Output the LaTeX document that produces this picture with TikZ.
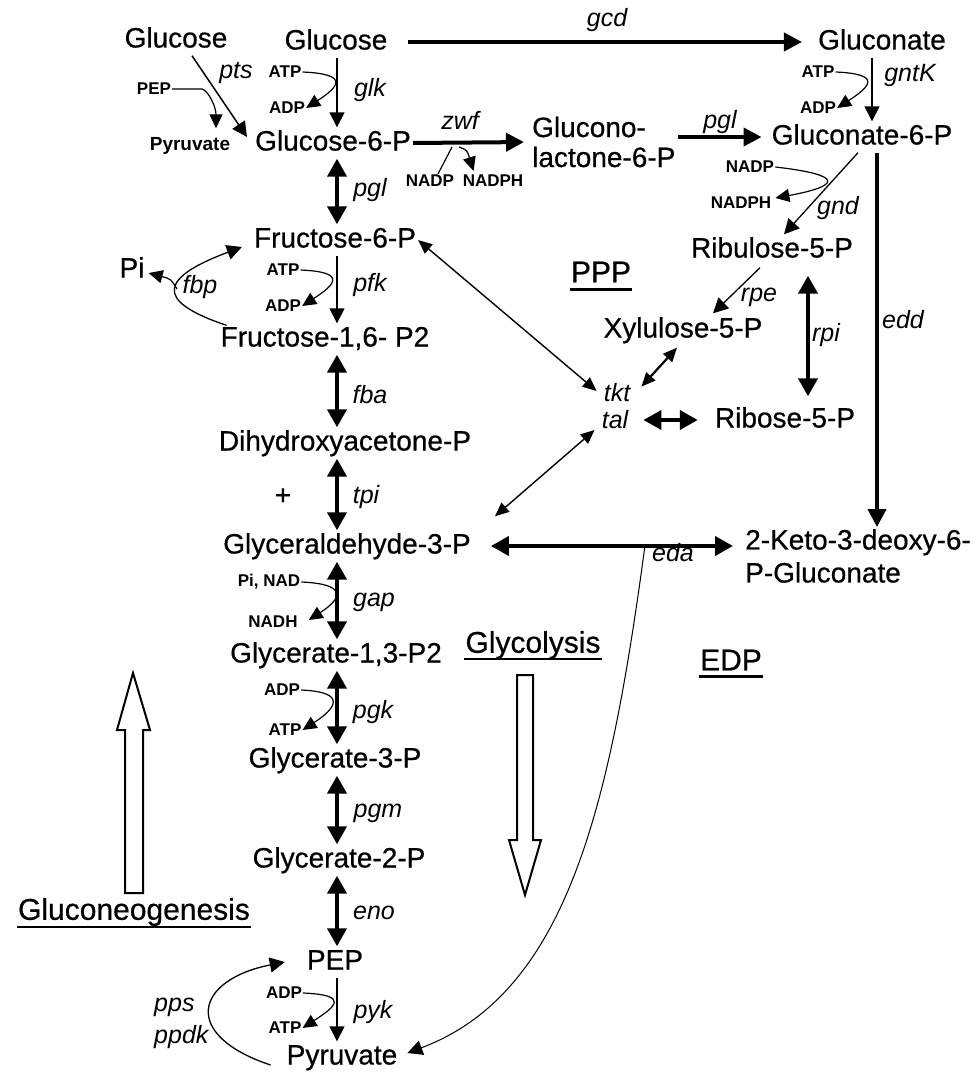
\documentclass[tikz,border=0pt]{standalone}
\usepackage{fontspec}
\setmainfont{Liberation Sans}
% slightly heavier regular weight for the compound names
\newfontfamily\heavy{Liberation Sans}[BoldFont=Liberation Sans, BoldFeatures={FakeBold=0.6}]
\usetikzlibrary{arrows.meta,calc}
\begin{document}
\begin{tikzpicture}[x=1pt,y=-1pt,
  met/.style={font=\heavy\bfseries\fontsize{28}{32}\selectfont, inner sep=2pt, text height=21pt, text depth=6pt},
  mettwo/.style={font=\heavy\bfseries\fontsize{28}{30}\selectfont, inner sep=2pt, align=left},
  enz/.style={font=\fontsize{25}{28}\selectfont\itshape, inner sep=1pt},
  cof/.style={font=\fontsize{17}{20}\selectfont\bfseries, inner sep=1pt},
  sec/.style={font=\heavy\bfseries\fontsize{30}{34}\selectfont, inner sep=1pt},
  thickarr/.style={line width=4pt, -{Triangle[length=18pt,width=18pt]}},
  thickdbl/.style={line width=4pt, {Triangle[length=18pt,width=19pt]}-{Triangle[length=18pt,width=19pt]}},
  thinarr/.style={line width=1.5pt, -{Triangle[length=15pt,width=15pt]}},
  thindbl/.style={line width=1.4pt, {Triangle[length=14pt,width=12pt]}-{Triangle[length=14pt,width=12pt]}},
  side/.style={line width=1.2pt, -{Triangle[length=14pt,width=13pt]}},
  plain/.style={line width=1.2pt},
  ul/.style={line width=2.5pt},
  hollow/.style={draw, line width=2pt, fill=white, line join=miter},
]
\useasboundingbox (0,0) rectangle (975,1073);

% columns of the vertical reaction arrows
\coordinate (colA) at (337,0);
\coordinate (colB) at (872,0);
\coordinate (colE) at (877,0);
\coordinate (colR) at (808,0);

% metabolites
\node[met] (glcL) at (176,40) {Glucose};
\node[met] (glc) at (336,42) {Glucose};
\node[met] (gn) at (882,42) {Gluconate};
\node[met] (g6p) at (333,143) {Glucose-6-P};
\node[mettwo, anchor=west] (gl6p) at (530,142) {Glucono-\\lactone-6-P};
\node[met] (gn6p) at (862,137) {Gluconate-6-P};
\node[met] (f6p) at (335,240) {Fructose-6-P};
\node[met] (fbp16) at (325,339) {Fructose-1,6- P2};
\node[met] (pi) at (132,270) {Pi};
\node[met] (dhap) at (345,443) {Dihydroxyacetone-P};
\node[met] (plus) at (283,497) {+};
\node[met] (g3p) at (347,546) {Glyceraldehyde-3-P};
\node[met] (bpg) at (336,655) {Glycerate-1,3-P2};
\node[met] (pg3) at (335,760) {Glycerate-3-P};
\node[met] (pg2) at (339,860) {Glycerate-2-P};
\node[met] (pep) at (335,962) {PEP};
\node[met] (pyr) at (342,1057) {Pyruvate};
\node[met] (ru5p) at (772,250) {Ribulose-5-P};
\node[met] (xu5p) at (683,330) {Xylulose-5-P};
\node[met] (r5p) at (785,420) {Ribose-5-P};
\node[mettwo, font=\heavy\bfseries\fontsize{28}{33}\selectfont, anchor=north west] (kdpg) at (743,527) {2-Keto-3-deoxy-6-\\P-Gluconate};

% cofactors
\node[cof] (pepS) at (154,89) {PEP};
\node[cof, font=\bfseries\fontsize{19}{22}\selectfont] (pyrS) at (190,146) {Pyruvate};
\node[cof] (atp1) at (285,72) {ATP};
\node[cof] (adp1) at (287,108) {ADP};
\node[cof] (nadp1) at (430,181) {NADP};
\node[cof] (nadph1) at (493,181) {NADPH};
\node[cof] (atp2) at (818,72) {ATP};
\node[cof] (adp2) at (818,108) {ADP};
\node[cof] (nadp2) at (750,167) {NADP};
\node[cof] (nadph2) at (741,203) {NADPH};
\node[cof] (atp3) at (283,270) {ATP};
\node[cof] (adp3) at (283,306) {ADP};
\node[cof] (pinad) at (269,582) {Pi, NAD};
\node[cof] (nadh) at (273,622) {NADH};
\node[cof] (adp4) at (282,690) {ADP};
\node[cof] (atp4) at (285,730) {ATP};
\node[cof] (adp5) at (284,993) {ADP};
\node[cof] (atp5) at (285,1028) {ATP};

% enzymes
\node[enz] (egcd) at (607,20) {gcd};
\node[enz] (epts) at (236,73) {pts};
\node[enz] (eglk) at (370,90) {glk};
\node[enz] (ezwf) at (460,120) {zwf};
\node[enz] (epgla) at (720,122) {pgl};
\node[enz] (egntk) at (910,75) {gntK};
\node[enz] (egnd) at (838,208) {gnd};
\node[enz] (epglb) at (370,190) {pgl};
\node[enz] (epfk) at (370,285) {pfk};
\node[enz] (efbp) at (200,287) {fbp};
\node[enz] (eedd) at (903,320) {edd};
\node[enz] (erpe) at (759,297) {rpe};
\node[enz] (erpi) at (826,335) {rpi};
\node[enz] (tkt) at (617,393) {tkt};
\node[enz] (tal) at (615,420) {tal};
\node[enz] (efba) at (370,395) {fba};
\node[enz] (etpi) at (366,497) {tpi};
\node[enz] (egap) at (374,602) {gap};
\node[enz] (epgk) at (373,712) {pgk};
\node[enz] (epgm) at (378,813) {pgm};
\node[enz] (eeno) at (374,913) {eno};
\node[enz] (epyk) at (373,1012) {pyk};
\node[enz] (eeda) at (673,553) {eda};
\node[enz, anchor=west] (epps) at (153,1007) {pps};
\node[enz, anchor=west] (eppdk) at (153,1037) {ppdk};

% pathway titles
\node[sec] (ppp) at (601,272) {PPP};
\node[sec] (glyc) at (533,645) {Glycolysis};
\node[sec] (edp) at (731,660) {EDP};
\node[sec] (gng) at (134,912) {Gluconeogenesis};
\draw[ul] ([yshift=-7pt]ppp.base west) -- ([yshift=-7pt]ppp.base east);
\draw[ul] ([yshift=-6pt]glyc.base west) -- ([yshift=-6pt]glyc.base east);
\draw[ul] ([yshift=-6pt]edp.base west) -- ([yshift=-6pt]edp.base east);
\draw[ul] ([yshift=-7pt]gng.base west) -- ([yshift=-7pt]gng.base east);

% hollow direction arrows
\draw[hollow] (125,893) -- (125,730) -- (117,730) -- (133,673) -- (150,730) -- (143,730) -- (143,893) -- cycle;
\draw[hollow] (517,675) -- (533,675) -- (533,840) -- (541,840) -- (525,895) -- (509,840) -- (517,840) -- cycle;

% glucose uptake
\draw[thickarr, shorten <=18pt, shorten >=14pt] (glc.east) -- (gn.west);
\draw[thinarr] ($(glcL.south)+(16,0)$) -- ($(g6p.west)+(-6,-6)$);
\draw[side] (pepS.east) -- ++(30,0) .. controls +(6,2) and +(0,-22) .. ($(pyrS.north)+(26,-8)$);
\draw[thinarr] (glc.south -| colA) -- (g6p.north -| colA);
\draw[side] (atp1.east) .. controls +(46,2) and +(34,-22) .. (adp1.east);

% oxidative branch
\draw[thickarr, shorten >=6pt] (g6p.east) -- (gl6p.west);
\coordinate (zwfj) at (455,143);
\draw[plain] ($(nadp1.north)+(8,0)$) -- ($(zwfj)+(-3,4)$);
\draw[side] ($(zwfj)+(4,4)$) .. controls +(8,3) .. ($(nadph1.north west)+(12,-3)$);
\draw[thickarr, shorten >=8pt] (gl6p.east |- gn6p.west) -- (gn6p.west);
\draw[thinarr] (gn.south -| colB) -- (gn6p.north -| colB);
\draw[side] (atp2.east) .. controls +(46,2) and +(34,-22) .. (adp2.east);
\draw[thinarr, line width=1.3pt] ($(gn6p.south)+(-4,0)$) -- ($(ru5p.north)+(12,0)$);
\draw[side] (nadp2.east) .. controls +(70,8) and +(65,-12) .. ($(nadph2.east)+(3,-5)$);
\draw[thickarr] (gn6p.south -| colE) -- (kdpg.north -| colE);

% non-oxidative branch
\draw[thinarr, line width=1.3pt] ($(ru5p.south)+(-12,2)$) -- ($(xu5p.north)+(30,-1)$);
\draw[thickdbl, shorten <=10pt, shorten >=8pt] (ru5p.south -| colR) -- (r5p.north -| colR);
\draw[thindbl, line width=2.2pt] ($(xu5p.south)+(-6,2)$) -- ($(tkt.north east)+(10,4)$);
\draw[thickdbl, shorten <=14pt, shorten >=15pt] (tal.east) -- (tal.east -| r5p.west);
\draw[thindbl] (f6p.east) -- ($(tkt.west)+(-6,-2)$);
\draw[thindbl] ($(g3p.north east)+(22,-14)$) -- ($(tal.west)+(-6,10)$);

% upper glycolysis
\draw[thickdbl] (g6p.south -| colA) -- (f6p.north -| colA);
\draw[thinarr] (f6p.south -| colA) -- (fbp16.north -| colA);
\draw[side] (atp3.east) .. controls +(46,2) and +(34,-22) .. (adp3.east);
\draw[thinarr, line width=1.3pt] ($(fbp16.north west)+(8,2)$) .. controls +(-75,-25) and +(-80,30) .. ($(f6p.west)+(-10,7)$);
\coordinate (fbpj) at (177,289);
\draw[side] (fbpj) .. controls +(-6,-10) .. ($(pi.east)+(2,3)$);
\draw[thickdbl] (fbp16.south -| colA) -- (dhap.north -| colA);
\draw[thickdbl] (dhap.south -| colA) -- (g3p.north -| colA);

% lower glycolysis
\draw[thickdbl] (g3p.south -| colA) -- (bpg.north -| colA);
\draw[side] (pinad.east) .. controls +(46,2) and +(34,-22) .. ($(nadh.east)+(10,-2)$);
\draw[thickdbl] (bpg.south -| colA) -- (pg3.north -| colA);
\draw[side] (adp4.east) .. controls +(46,2) and +(34,-22) .. (atp4.east);
\draw[thickdbl] (pg3.south -| colA) -- (pg2.north -| colA);
\draw[thickdbl] (pg2.south -| colA) -- (pep.north -| colA);
\draw[thinarr] (pep.south -| colA) -- (pyr.north -| colA);
\draw[side] (adp5.east) .. controls +(46,2) and +(34,-22) .. (atp5.east);
\draw[thinarr, line width=1.3pt] ($(pyr.west)+(-14,8)$) .. controls +(-90,-30) and +(-90,18) .. ($(pep.west)+(-20,0)$);

% Entner-Doudoroff cleavage
\draw[thickdbl, shorten <=18pt, shorten >=10pt] (g3p.east) -- (g3p.east -| kdpg.west);
\coordinate (edaj) at ($(g3p.east)+(172,0)$);
\draw[thinarr, line width=1pt] (edaj) .. controls +(-35,260) and +(160,-60) .. ($(pyr.east)+(8,-4)$);
\end{tikzpicture}
\end{document}
